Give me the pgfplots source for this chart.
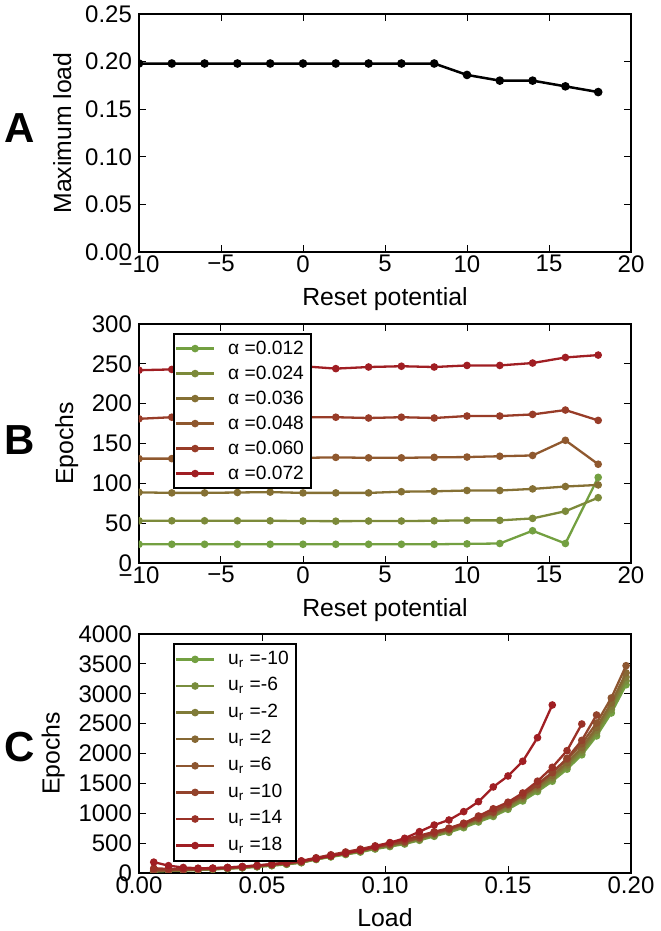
\documentclass[border=0pt]{standalone}
\usepackage{fontspec}
\setmainfont{Liberation Sans}
\usepackage{pgfplots}
\pgfplotsset{compat=1.18}

\definecolor{b0}{RGB}{115,160,65}
\definecolor{b1}{RGB}{124,138,58}
\definecolor{b2}{RGB}{133,112,52}
\definecolor{b3}{RGB}{143,88,46}
\definecolor{b4}{RGB}{152,60,40}
\definecolor{b5}{RGB}{160,30,35}

\definecolor{c0}{RGB}{115,160,65}
\definecolor{c1}{RGB}{121,141,61}
\definecolor{c2}{RGB}{128,123,56}
\definecolor{c3}{RGB}{134,104,52}
\definecolor{c4}{RGB}{141,86,48}
\definecolor{c5}{RGB}{147,67,44}
\definecolor{c6}{RGB}{154,49,39}
\definecolor{c7}{RGB}{160,30,35}

\pgfplotsset{
  myaxis/.style={
    scale only axis, anchor=north west,
    width=246pt,
    axis line style={line width=1.2pt},
    every tick/.style={line width=0.5pt, black},
    major tick length=3.5pt,
    tick align=inside,
    xtick pos=both, ytick pos=both,
    tick label style={font=\fontsize{12}{14}\selectfont},
    label style={font=\fontsize{12.4}{14}\selectfont},
    xlabel style={yshift=-2.5pt},
    /pgf/number format/assume math mode=true,
    /pgf/number format/1000 sep={},
    scaled ticks=false,
    clip marker paths=true,
    xticklabel style={inner ysep=1.5pt},
    legend cell align=left,
    legend image code/.code={\draw[mark repeat=2,mark phase=2,##1] plot coordinates {(0pt,0pt) (9.5pt,0pt) (19pt,0pt)};},
    legend style={at={(rel axis cs:0.069,0.962)}, anchor=north west, draw=black, line width=1pt,
      font=\fontsize{9.6}{11}\selectfont, inner xsep=0.5pt, inner ysep=1pt,
      column sep=3.5pt,
      nodes={inner ysep=1.5pt, inner xsep=3pt, text height=7.5pt, text depth=2pt}},
  },
  myplot/.style={line width=1.15pt, mark=*, mark size=1.3pt, mark options={solid}},
}

\begin{document}
\begin{tikzpicture}
\path[use as bounding box] (0pt,0pt) rectangle (330pt,-465.5pt);

\node[font=\fontsize{21}{24}\selectfont\bfseries] at (9.75pt,-64pt) {A};
\node[font=\fontsize{21}{24}\selectfont\bfseries] at (10pt,-220pt) {B};
\node[font=\fontsize{21}{24}\selectfont\bfseries] at (9.75pt,-373.5pt) {C};

% Panel A
\begin{axis}[myaxis, at={(69.5pt,-7pt)}, height=119pt,
  xmin=-10, xmax=20, ymin=0, ymax=0.25,
  xtick={-10,-5,0,5,10,15,20},
  xticklabels={−10,−5,0,5,10,15,20},
  ytick={0,0.05,0.1,0.15,0.2,0.25},
  yticklabel style={/pgf/number format/fixed, /pgf/number format/fixed zerofill, /pgf/number format/precision=2},
  xlabel={Reset potential}, ylabel={Maximum load}]
\addplot[myplot, black, line width=1.25pt, mark size=1.5pt] coordinates {
(-10,0.198) (-8,0.198) (-6,0.198) (-4,0.198) (-2,0.198) (0,0.198) (2,0.198) (4,0.198) (6,0.198) (8,0.198)
(10,0.186) (12,0.180) (14,0.180) (16,0.174) (18,0.168)};
\end{axis}

% Panel B
\begin{axis}[myaxis, at={(69.5pt,-162pt)}, height=119.5pt,
  xmin=-10, xmax=20, ymin=0, ymax=300,
  xtick={-10,-5,0,5,10,15,20},
  xticklabels={−10,−5,0,5,10,15,20},
  ytick={0,50,100,150,200,250,300},
  xlabel={Reset potential}, ylabel={Epochs}]
\addplot[myplot, b0] coordinates {
(-10,23.5) (-8,23.5) (-6,23.5) (-4,23.5) (-2,23.5) (0,23.5) (2,23.5) (4,23.5) (6,23.5) (8,23.5)
(10,24) (12,24.5) (14,40.5) (16,24.5) (18,107.5)};
\addlegendentry{α =0.012}
\addplot[myplot, b1] coordinates {
(-10,53) (-8,53) (-6,53) (-4,53) (-2,53) (0,52.7) (2,52.5) (4,52.7) (6,52.7) (8,53)
(10,53.5) (12,53.5) (14,56) (16,65) (18,82)};
\addlegendentry{α =0.024}
\addplot[myplot, b2] coordinates {
(-10,88.7) (-8,88) (-6,88) (-4,88.5) (-2,89) (0,88) (2,88) (4,88) (6,89.5) (8,90)
(10,91) (12,91) (14,93) (16,96) (18,98)};
\addlegendentry{α =0.036}
\addplot[myplot, b3] coordinates {
(-10,131) (-8,131) (-6,131.5) (-4,131.5) (-2,132) (0,132) (2,132.6) (4,132) (6,132) (8,132.6)
(10,133) (12,134) (14,135) (16,154) (18,124)};
\addlegendentry{α =0.048}
\addplot[myplot, b4] coordinates {
(-10,181) (-8,183) (-6,183) (-4,183) (-2,183) (0,183) (2,183) (4,182) (6,183) (8,182)
(10,184.5) (12,184.5) (14,186.5) (16,192) (18,179)};
\addlegendentry{α =0.060}
\addplot[myplot, b5] coordinates {
(-10,242) (-8,243) (-6,244) (-4,245) (-2,246) (0,247) (2,244) (4,246) (6,247) (8,246)
(10,248) (12,248) (14,251) (16,258) (18,261)};
\addlegendentry{α =0.072}
\end{axis}

% Panel C
\begin{axis}[myaxis, at={(69.5pt,-317pt)}, height=119.5pt,
  xmin=0, xmax=0.2, ymin=0, ymax=4000,
  xtick={0,0.05,0.1,0.15,0.2},
  xticklabel style={/pgf/number format/fixed, /pgf/number format/fixed zerofill, /pgf/number format/precision=2},
  ytick={0,500,1000,1500,2000,2500,3000,3500,4000},
  legend style={nodes={text depth=2.8pt}},
  xlabel={Load}, ylabel={Epochs}]
\addplot[myplot, c0] coordinates {
(0.006,25) (0.012,35) (0.018,42) (0.024,50) (0.030,60) (0.036,72) (0.042,86) (0.048,103) (0.054,122) (0.060,145) (0.066,172)
(0.072,226) (0.078,269) (0.084,309) (0.090,350) (0.096,401) (0.102,442) (0.108,485) (0.114,547) (0.120,614) (0.126,680)
(0.132,758) (0.138,854) (0.144,946) (0.150,1066) (0.156,1205) (0.162,1363) (0.168,1536) (0.174,1738) (0.180,1978) (0.186,2294)
(0.192,2678) (0.198,3150)};
\addlegendentry{u\textsubscript{r} =-10}
\addplot[myplot, c1] coordinates {
(0.006,28) (0.012,38) (0.018,45) (0.024,53) (0.030,63) (0.036,75) (0.042,89) (0.048,106) (0.054,126) (0.060,149) (0.066,176)
(0.072,230) (0.078,274) (0.084,316) (0.090,358) (0.096,410) (0.102,451) (0.108,495) (0.114,559) (0.120,627) (0.126,694)
(0.132,774) (0.138,872) (0.144,965) (0.150,1088) (0.156,1230) (0.162,1392) (0.168,1568) (0.174,1774) (0.180,2019) (0.186,2342)
(0.192,2734) (0.198,3215)};
\addlegendentry{u\textsubscript{r} =-6}
\addplot[myplot, c2] coordinates {
(0.006,30) (0.012,40) (0.018,48) (0.024,56) (0.030,66) (0.036,78) (0.042,92) (0.048,110) (0.054,130) (0.060,153) (0.066,180)
(0.072,235) (0.078,280) (0.084,322) (0.090,365) (0.096,418) (0.102,460) (0.108,505) (0.114,570) (0.120,640) (0.126,708)
(0.132,790) (0.138,890) (0.144,985) (0.150,1110) (0.156,1255) (0.162,1420) (0.168,1600) (0.174,1810) (0.180,2060) (0.186,2390)
(0.192,2790) (0.198,3280)};
\addlegendentry{u\textsubscript{r} =-2}
\addplot[myplot, c3] coordinates {
(0.006,33) (0.012,43) (0.018,51) (0.024,59) (0.030,69) (0.036,81) (0.042,96) (0.048,114) (0.054,134) (0.060,157) (0.066,185)
(0.072,240) (0.078,286) (0.084,328) (0.090,372) (0.096,426) (0.102,469) (0.108,515) (0.114,581) (0.120,653) (0.126,722)
(0.132,806) (0.138,908) (0.144,1005) (0.150,1132) (0.156,1280) (0.162,1448) (0.168,1632) (0.174,1846) (0.180,2101) (0.186,2438)
(0.192,2846) (0.198,3350)};
\addlegendentry{u\textsubscript{r} =2}
\addplot[myplot, c4] coordinates {
(0.006,38) (0.012,47) (0.018,55) (0.024,63) (0.030,73) (0.036,85) (0.042,100) (0.048,118) (0.054,139) (0.060,162) (0.066,190)
(0.072,247) (0.078,294) (0.084,338) (0.090,383) (0.096,439) (0.102,483) (0.108,530) (0.114,599) (0.120,672) (0.126,743)
(0.132,830) (0.138,935) (0.144,1034) (0.150,1166) (0.156,1318) (0.162,1491) (0.168,1680) (0.174,1901) (0.180,2163) (0.186,2510)
(0.192,2930) (0.198,3470)};
\addlegendentry{u\textsubscript{r} =6}
\addplot[myplot, c5] coordinates {
(0.006,50) (0.012,55) (0.018,60) (0.024,66) (0.030,75) (0.036,88) (0.042,103) (0.048,122) (0.054,143) (0.060,167) (0.066,196)
(0.072,243) (0.078,290) (0.084,333) (0.090,378) (0.096,432) (0.102,478) (0.108,525) (0.114,592) (0.120,665) (0.126,735)
(0.132,820) (0.138,920) (0.144,1020) (0.150,1150) (0.156,1300) (0.162,1475) (0.168,1680) (0.174,1920) (0.180,2220) (0.186,2645)};
\addlegendentry{u\textsubscript{r} =10}
\addplot[myplot, c6] coordinates {
(0.006,80) (0.012,68) (0.018,65) (0.024,70) (0.030,79) (0.036,92) (0.042,108) (0.048,127) (0.054,149) (0.060,173) (0.066,203)
(0.072,255) (0.078,305) (0.084,352) (0.090,400) (0.096,455) (0.102,505) (0.108,560) (0.114,625) (0.120,690) (0.126,750)
(0.132,832) (0.138,954) (0.144,1075) (0.150,1185) (0.156,1340) (0.162,1537) (0.168,1769) (0.174,2048) (0.180,2494)};
\addlegendentry{u\textsubscript{r} =14}
\addplot[myplot, c7] coordinates {
(0.006,182) (0.012,123) (0.018,92) (0.024,80) (0.030,82) (0.036,92) (0.042,106) (0.048,124) (0.054,146) (0.060,170) (0.066,200)
(0.072,240) (0.078,285) (0.084,330) (0.090,380) (0.096,440) (0.102,508) (0.108,581) (0.114,692) (0.120,803) (0.126,887)
(0.132,1027) (0.138,1194) (0.144,1440) (0.150,1624) (0.156,1870) (0.162,2265) (0.168,2812)};
\addlegendentry{u\textsubscript{r} =18}
\end{axis}
\end{tikzpicture}
\end{document}
